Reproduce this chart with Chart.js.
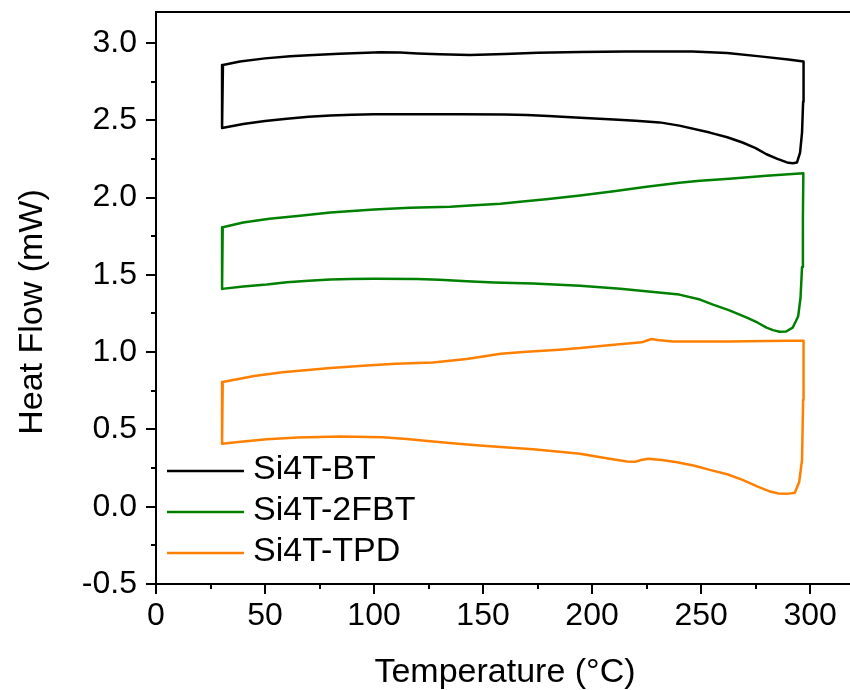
<!DOCTYPE html>
<html>
<head>
<meta charset="utf-8">
<script src="https://cdn.jsdelivr.net/npm/chart.js@4"></script>
<style>
    html, body { margin: 0; padding: 0; background: #fff; }
    canvas { display: block; }
</style>
</head>
<body>
<canvas id="dsc" width="850" height="690"></canvas>
<script>
// DSC loops: heating branch then cooling branch back
const btTemp = [30.3, 40, 50, 60, 70, 80, 90, 100, 120, 140, 160, 170, 180, 194.5, 210, 220, 231, 240, 254, 262, 269, 275, 280, 285, 289.4, 292, 294, 295.4, 296.3, 296.8, 297.0,
    290, 277, 262, 246, 216, 194.5, 175, 160, 144, 130, 120, 112, 103, 84, 70, 61.5, 50, 38.5, 30.7, 30.3];
const btFlow = [2.45, 2.475, 2.495, 2.51, 2.522, 2.53, 2.535, 2.538, 2.539, 2.539, 2.537, 2.533, 2.527, 2.516, 2.505, 2.497, 2.486, 2.465, 2.42, 2.39, 2.356, 2.32, 2.28, 2.25, 2.227, 2.222, 2.227, 2.29, 2.42, 2.62, 2.88,
    2.893, 2.913, 2.935, 2.945, 2.945, 2.941, 2.936, 2.928, 2.922, 2.927, 2.932, 2.938, 2.939, 2.93, 2.92, 2.913, 2.9, 2.88, 2.857, 2.45];

const fbtTemp = [30.3, 40, 50.8, 60, 70, 80, 89, 100, 119.6, 130, 142.5, 155, 173, 194.5, 213, 227, 240, 249.5, 255.5, 263, 271, 276, 280, 283, 286, 289, 292, 294.5, 295.6, 296.3, 296.7, 296.9,
    280, 263, 249.5, 240, 225, 210, 194.5, 180, 167, 158, 144, 135, 116.5, 100, 80, 66, 52, 40, 30.6, 30.3];
const fbtFlow = [1.409, 1.424, 1.437, 1.452, 1.462, 1.469, 1.473, 1.474, 1.473, 1.468, 1.458, 1.45, 1.443, 1.43, 1.41, 1.39, 1.372, 1.34, 1.307, 1.27, 1.223, 1.19, 1.158, 1.142, 1.132, 1.133, 1.158, 1.23, 1.35, 1.55, 1.877, 2.157,
    2.14, 2.122, 2.108, 2.095, 2.07, 2.04, 2.013, 1.99, 1.972, 1.96, 1.948, 1.94, 1.933, 1.922, 1.903, 1.882, 1.862, 1.838, 1.808, 1.409];

const tpdTemp = [30.3, 40, 50.8, 65, 84.4, 104, 115, 127, 140, 150, 163, 173, 185, 194.5, 200.5, 208, 216, 219.7, 222.5, 225.7, 232, 239, 247, 254, 262, 269, 276, 281.7, 285.5, 289.4, 293, 295, 296.3, 296.8, 297.0,
    290, 262, 237, 230, 227.4, 224.5, 222.8, 210, 194.5, 185, 170, 158, 150, 142.5, 127, 110, 96.6, 80, 58, 45, 30.6, 30.3];
const tpdFlow = [0.407, 0.422, 0.437, 0.448, 0.454, 0.45, 0.438, 0.422, 0.405, 0.394, 0.382, 0.372, 0.355, 0.343, 0.328, 0.31, 0.293, 0.29, 0.302, 0.31, 0.302, 0.288, 0.265, 0.238, 0.21, 0.174, 0.13, 0.098, 0.085, 0.083, 0.09, 0.16, 0.303, 0.69, 1.074,
    1.073, 1.069, 1.069, 1.078, 1.085, 1.072, 1.063, 1.048, 1.026, 1.016, 1.003, 0.99, 0.972, 0.955, 0.933, 0.924, 0.914, 0.897, 0.869, 0.845, 0.806, 0.407];

const seriesNames = ['Si4T-BT', 'Si4T-2FBT', 'Si4T-TPD'];
const seriesColors = ['#000000', '#008000', '#ff8000'];

const FONT = 'Liberation Sans, Arial, sans-serif';

const toPoints = (xs, ys) => xs.map((x, i) => ({ x: x, y: ys[i] }));

// minor/major tick marks, top frame, axis titles and the inset legend
const decorations = {
    id: 'decorations',
    afterDraw(chart) {
        const ctx = chart.ctx;
        const xs = chart.scales.x;
        const ys = chart.scales.y;
        const area = chart.chartArea;
        ctx.save();
        ctx.strokeStyle = '#000';
        ctx.lineWidth = 2;
        ctx.beginPath();
        for (let v = 0; v <= 318; v += 25) {
            const px = Math.round(xs.getPixelForValue(v));
            const len = v % 50 === 0 ? 10 : 5;
            ctx.moveTo(px, area.bottom);
            ctx.lineTo(px, area.bottom + len);
        }
        for (let k = 0; k <= 14; k++) {
            const v = -0.5 + k * 0.25;
            const py = Math.round(ys.getPixelForValue(v));
            const len = k % 2 === 0 ? 10 : 5;
            ctx.moveTo(area.left - len, py);
            ctx.lineTo(area.left, py);
        }
        ctx.moveTo(area.left - 1, area.top);
        ctx.lineTo(area.right + 1, area.top);
        ctx.stroke();

        // axis titles
        ctx.fillStyle = '#000';
        ctx.font = '34px ' + FONT;
        ctx.textAlign = 'center';
        ctx.textBaseline = 'alphabetic';
        ctx.fillText('Temperature (°C)', (area.left + area.right) / 2 + 2, 682);
        ctx.save();
        ctx.translate(42, 312);
        ctx.rotate(-Math.PI / 2);
        ctx.fillText('Heat Flow (mW)', 0, 0);
        ctx.restore();

        // legend
        ctx.textAlign = 'left';
        ctx.textBaseline = 'middle';
        chart.data.datasets.forEach((ds, i) => {
            const y = 471 + i * 41;
            ctx.strokeStyle = ds.borderColor;
            ctx.lineWidth = 2.5;
            ctx.beginPath();
            ctx.moveTo(167, y);
            ctx.lineTo(244, y);
            ctx.stroke();
            ctx.fillText(ds.label, 253, y - 1);
        });
        ctx.restore();
    }
};

new Chart(document.getElementById('dsc'), {
    type: 'scatter',
    data: {
        datasets: [
            { label: seriesNames[0], data: toPoints(btTemp, btFlow), borderColor: seriesColors[0] },
            { label: seriesNames[1], data: toPoints(fbtTemp, fbtFlow), borderColor: seriesColors[1] },
            { label: seriesNames[2], data: toPoints(tpdTemp, tpdFlow), borderColor: seriesColors[2] }
        ].map(ds => Object.assign(ds, {
            showLine: true,
            pointRadius: 0,
            borderWidth: 2.5,
            borderJoinStyle: 'round',
            tension: 0,
            fill: false,
            backgroundColor: ds.borderColor
        }))
    },
    options: {
        responsive: false,
        devicePixelRatio: 1,
        animation: false,
        layout: { padding: { top: 12, right: 0, left: 0, bottom: 0 } },
        plugins: {
            legend: { display: false },
            tooltip: { enabled: false }
        },
        scales: {
            x: {
                type: 'linear',
                min: 0,
                max: 318.3,
                afterFit: s => { s.height = 106; s.paddingLeft = 0; s.paddingRight = 0; },
                grid: { display: false, drawTicks: false },
                border: { display: true, color: '#000', width: 2 },
                ticks: {
                    stepSize: 50,
                    includeBounds: false,
                    padding: 13,
                    color: '#000',
                    font: { family: FONT, size: 32 },
                    callback: v => String(v)
                }
            },
            y: {
                type: 'linear',
                min: -0.5,
                max: 3.2,
                afterFit: s => { s.width = 156; s.paddingTop = 0; s.paddingBottom = 0; },
                grid: { display: false, drawTicks: false },
                border: { display: true, color: '#000', width: 2 },
                ticks: {
                    stepSize: 0.5,
                    includeBounds: false,
                    padding: 19,
                    color: '#000',
                    font: { family: FONT, size: 32 },
                    callback: v => Number(v).toFixed(1)
                }
            }
        }
    },
    plugins: [decorations]
});
</script>
</body>
</html>
